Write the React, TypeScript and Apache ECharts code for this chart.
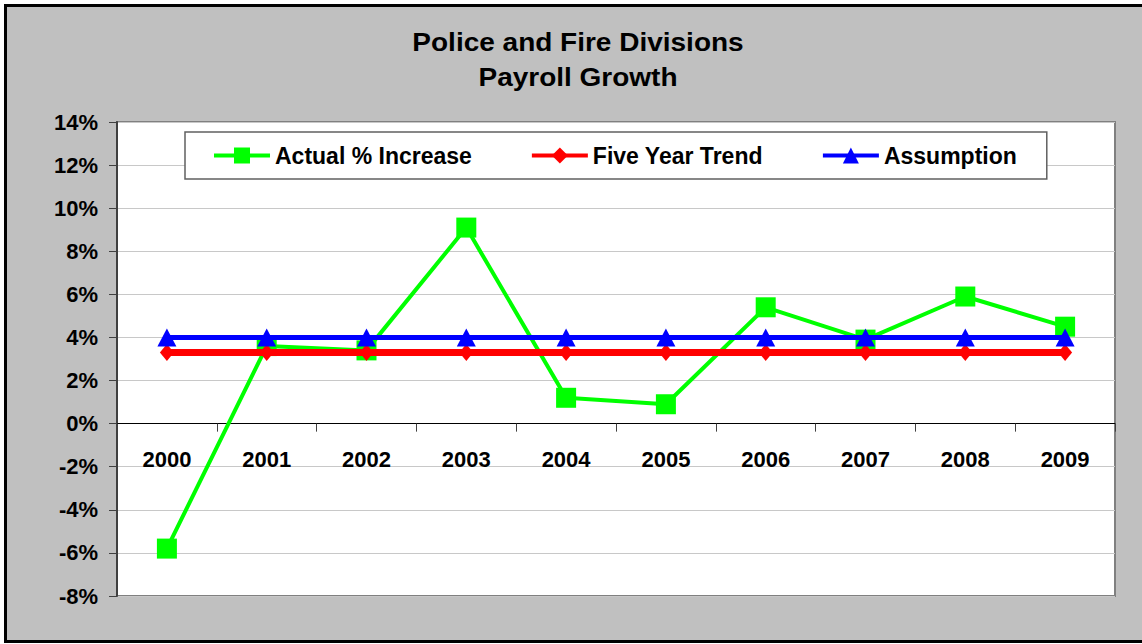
import { useEffect, useRef } from "react";
import * as echarts from "echarts";

// Payroll growth by year, in percent
const years = ["2000", "2001", "2002", "2003", "2004", "2005", "2006", "2007", "2008", "2009"];
const actualIncrease = [-5.8, 3.6, 3.4, 9.1, 1.2, 0.9, 5.4, 3.9, 5.9, 4.5];
const fiveYearTrend = [3.3, 3.3, 3.3, 3.3, 3.3, 3.3, 3.3, 3.3, 3.3, 3.3];
const assumption = [4.0, 4.0, 4.0, 4.0, 4.0, 4.0, 4.0, 4.0, 4.0, 4.0];

const seriesNames = ["Actual % Increase", "Five Year Trend", "Assumption"];
const titleLines = ["Police and Fire Divisions", "Payroll Growth"];

const FONT = '"Liberation Sans", Arial, sans-serif';

export default function App() {
  const ref = useRef<HTMLDivElement>(null);

  useEffect(() => {
    document.body.style.margin = "0";
    if (!ref.current) return;
    const chart = echarts.init(ref.current, null, { renderer: "svg" });

    chart.setOption({
      animation: false,
      backgroundColor: "#ffffff",
      graphic: [
        {
          type: "rect",
          z: -100,
          silent: true,
          shape: { x: 5.5, y: 5.5, width: 1160, height: 636 },
          style: { fill: "#c0c0c0", stroke: "#000000", lineWidth: 3 },
        },
        {
          type: "text",
          x: 578,
          y: 43,
          scaleX: 1.12,
          silent: true,
          style: {
            text: titleLines[0],
            font: `bold 25px ${FONT}`,
            fill: "#000000",
            align: "center",
            verticalAlign: "middle",
          },
        },
        {
          type: "text",
          x: 578,
          y: 78,
          scaleX: 1.12,
          silent: true,
          style: {
            text: titleLines[1],
            font: `bold 25px ${FONT}`,
            fill: "#000000",
            align: "center",
            verticalAlign: "middle",
          },
        },
      ],
      legend: {
        left: 185,
        top: 132,
        padding: [12, 30, 12, 27],
        itemGap: 58,
        itemWidth: 56,
        itemHeight: 20,
        backgroundColor: "#ffffff",
        borderColor: "#606060",
        borderWidth: 1.5,
        lineStyle: { width: 4 },
        textStyle: { fontSize: 23, fontWeight: "bold", color: "#000000", fontFamily: FONT },
        data: seriesNames,
      },
      grid: {
        left: 117,
        right: 27,
        top: 122,
        bottom: 48,
        show: true,
        backgroundColor: "#ffffff",
        borderColor: "#808080",
        borderWidth: 2,
      },
      xAxis: {
        type: "category",
        data: years,
        boundaryGap: true,
        axisLine: { onZero: true, lineStyle: { color: "#000000", width: 1 } },
        axisTick: { show: true, interval: 0, length: 8, lineStyle: { color: "#404040", width: 1 } },
        // labels sit just under the zero line, well above the plot's bottom edge
        axisLabel: {
          interval: 0,
          margin: -148,
          fontSize: 22,
          fontWeight: "bold",
          color: "#000000",
          fontFamily: FONT,
        },
        splitLine: { show: false },
      },
      yAxis: {
        type: "value",
        min: -8,
        max: 14,
        interval: 2,
        axisLine: { show: true, lineStyle: { color: "#404040", width: 2 } },
        axisTick: { show: true, length: 8, lineStyle: { color: "#404040", width: 1 } },
        axisLabel: {
          formatter: "{value}%",
          margin: 19,
          fontSize: 22,
          fontWeight: "bold",
          color: "#000000",
          fontFamily: FONT,
        },
        splitLine: { show: true, lineStyle: { color: "#c8c8c8", width: 1 } },
      },
      series: [
        {
          name: seriesNames[0],
          type: "line",
          data: actualIncrease,
          z: 2,
          color: "#00ff00",
          symbol: "rect",
          symbolSize: 20,
          lineStyle: { color: "#00ff00", width: 4 },
          itemStyle: { color: "#00ff00" },
        },
        {
          name: seriesNames[1],
          type: "line",
          data: fiveYearTrend,
          z: 3,
          color: "#ff0000",
          symbol: "diamond",
          symbolSize: [14, 17],
          lineStyle: { color: "#ff0000", width: 7 },
          itemStyle: { color: "#ff0000" },
        },
        {
          name: seriesNames[2],
          type: "line",
          data: assumption,
          z: 4,
          color: "#0000ff",
          symbol: "triangle",
          symbolSize: [19, 18],
          lineStyle: { color: "#0000ff", width: 5 },
          itemStyle: { color: "#0000ff" },
        },
      ],
    });

    return () => chart.dispose();
  }, []);

  return <div ref={ref} style={{ width: 1142, height: 644 }} />;
}
